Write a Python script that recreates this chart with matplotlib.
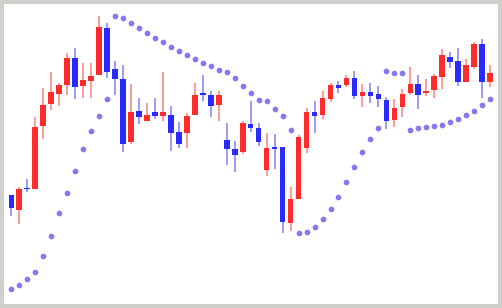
import numpy as np
import matplotlib
matplotlib.use("Agg")
import matplotlib.pyplot as plt

# daily candles: open, close, high, low
opens  = [115, 100, 122, 121, 184, 206, 216, 225, 252, 224, 229, 235, 282, 241, 231, 168, 199, 189, 198, 194,
          195, 178, 177, 195, 217, 215, 205, 170, 161, 158, 186, 182, 140, 163, 163, 87, 111, 162, 198, 195,
          211, 225, 225, 232, 214, 218, 216, 210, 190, 203, 217, 226, 217, 220, 233, 253, 249, 228, 243, 266, 228]
closes = [102, 121, 121, 183, 205, 218, 225, 252, 223, 230, 234, 283, 238, 231, 166, 198, 193, 195, 194, 198,
          177, 166, 194, 215, 215, 204, 215, 161, 155, 187, 182, 168, 162, 161, 88, 111, 173, 198, 194, 212,
          225, 222, 232, 214, 218, 214, 211, 189, 202, 216, 226, 215, 219, 234, 255, 248, 228, 245, 266, 228, 237]
highs  = [115, 123, 131, 193, 222, 238, 227, 257, 262, 247, 247, 294, 287, 249, 245, 226, 212, 207, 212, 238,
          204, 188, 197, 227, 235, 219, 219, 187, 169, 189, 209, 187, 177, 176, 163, 123, 175, 202, 209, 219,
          227, 229, 235, 239, 226, 227, 224, 213, 211, 221, 243, 235, 231, 236, 261, 258, 262, 251, 268, 271, 245]
lows   = [94, 86, 118, 121, 171, 200, 204, 215, 211, 212, 212, 235, 232, 215, 158, 166, 186, 189, 191, 189,
          159, 162, 162, 195, 209, 193, 189, 145, 138, 156, 178, 164, 134, 141, 77, 79, 111, 157, 177, 191,
          208, 217, 223, 211, 203, 207, 203, 181, 183, 193, 215, 201, 214, 212, 221, 242, 224, 228, 241, 212, 223]
# parabolic SAR
sar = [21.3, 25, 30.7, 38.3, 54.3, 74.3, 97.3, 117.3, 139.3, 161, 179.3, 194.3, 211,
       294, 292.3, 286.7, 282, 277, 272.3, 267.7, 262.7, 258.7, 254.7, 250.7, 246.7, 243.7, 240.3, 237.7,
       231.7, 223.7, 216.7, 210.3, 208.7, 201.3, 194.3, 180,
       76.7, 78.3, 83, 91, 101.3, 113.3, 127.7, 142.7, 157.7, 170.7, 181.7,
       239, 237.3, 236.7,
       180, 181.7, 182.7, 184.3, 185, 188, 190.7, 195.3, 199.3, 204.7, 211]

up_col = "#ff2a2a"
down_col = "#2a2aff"

fig = plt.figure(figsize=(5.0201, 3.0801), dpi=100, facecolor="#cfcfcc")
ax = fig.add_axes([4/502, 4/308, 494/502, 300/308])
ax.set_facecolor("white")

x = np.arange(len(opens))
o = np.array(opens, dtype=float)
c = np.array(closes, dtype=float)
colors = [up_col if cc > oo else down_col for oo, cc in zip(o, c)]

ax.vlines(x, lows, highs, colors=colors, linewidth=1.1, alpha=0.6, zorder=2)
body = np.maximum(np.abs(c - o), 1.2)
ax.bar(x, body, bottom=np.minimum(o, c), width=0.7, color=colors, linewidth=0, zorder=3)

ax.scatter(x, sar, s=17, color="#7b68ee", alpha=0.9, linewidths=0, zorder=4)

ax.set_xlim(-0.915, 60.99)
ax.set_ylim(6, 306)
ax.set_xticks([])
ax.set_yticks([])
for s in ax.spines.values():
    s.set_visible(False)

plt.savefig("out.png", dpi=100, facecolor=fig.get_facecolor())
